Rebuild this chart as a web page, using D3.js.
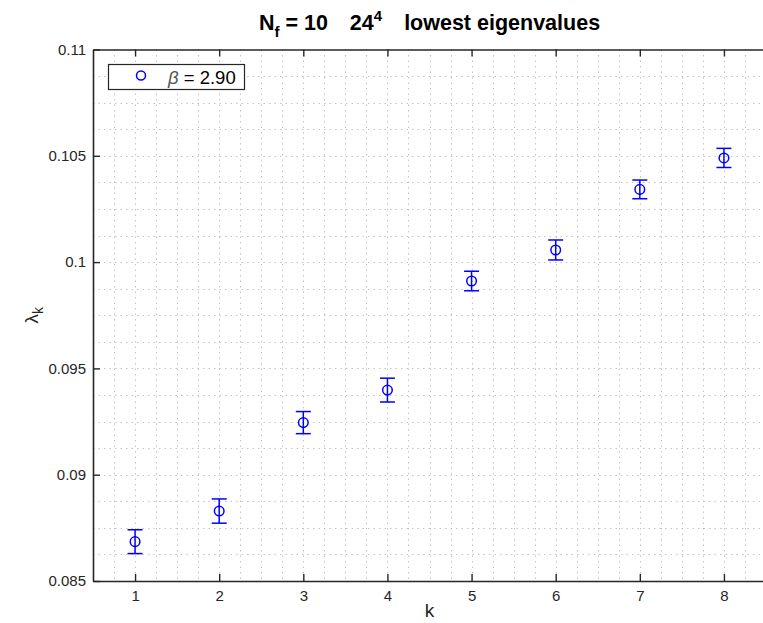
<!DOCTYPE html>
<html>
<head>
<meta charset="utf-8">
<script src="https://cdn.jsdelivr.net/npm/d3@7"></script>
<style>
  html, body { margin: 0; padding: 0; background: #fff; }
  svg { display: block; font-family: "Liberation Sans", Arial, Helvetica, sans-serif; }
</style>
</head>
<body>
<svg id="chart" width="763" height="623"></svg>
<script>
// Lowest Dirac eigenvalues, N_f = 10 on a 24^4 lattice, beta = 2.90
const modes = [1, 2, 3, 4, 5, 6, 7, 8];
const lambda = [0.08685, 0.08829, 0.09245, 0.09398, 0.09911, 0.10057, 0.10342, 0.10490];
const lambdaErr = [0.00056, 0.00057, 0.00052, 0.00056, 0.00046, 0.00047, 0.00044, 0.00045];
const xTicks = [1, 2, 3, 4, 5, 6, 7, 8];
const yTicks = [0.085, 0.09, 0.095, 0.1, 0.105, 0.11];
const yTickLabels = ["0.085", "0.09", "0.095", "0.1", "0.105", "0.11"];
const seriesLabel = "2.90";

(function draw() {
  const svg = d3.select("#chart");
  const mLeft = 93, mRight = 766, mTop = 49.5, mBottom = 581;

  const x = d3.scaleLinear().domain([0.5, 8.5]).range([mLeft, mRight]);
  const y = d3.scaleLinear().domain([0.085, 0.11]).range([mBottom, mTop]);

  const axisColor = "#262626";
  const gridColor = "#c4c4c4";
  const blue = "#0000ff";

  // minor + major dotted grid
  const xGrid = d3.range(0.75, 8.5, 0.25);
  const yGrid = d3.range(1, 20).map(i => 0.085 + i * 0.00125);

  const grid = svg.append("g");
  grid.append("g").selectAll("line").data(xGrid).join("line")
    .attr("x1", d => Math.round(x(d)) + 0.5).attr("x2", d => Math.round(x(d)) + 0.5)
    .attr("y1", mTop).attr("y2", mBottom)
    .attr("stroke", gridColor).attr("stroke-width", 1)
    .attr("stroke-dasharray", "1.5,4");
  grid.append("g").selectAll("line").data(yGrid).join("line")
    .attr("y1", d => Math.round(y(d)) + 0.5).attr("y2", d => Math.round(y(d)) + 0.5)
    .attr("x1", mLeft).attr("x2", mRight)
    .attr("stroke", gridColor).attr("stroke-width", 1)
    .attr("stroke-dasharray", "1.5,4");

  // axes (ticks pointing inward)
  const tickLen = 7;
  const xAxisB = d3.axisBottom(x).tickValues(xTicks).tickSizeInner(-tickLen).tickSizeOuter(0)
    .tickPadding(9).tickFormat(d3.format("d"));
  const xAxisT = d3.axisTop(x).tickValues(xTicks).tickSizeInner(-tickLen).tickSizeOuter(0).tickFormat("");
  const yAxisL = d3.axisLeft(y).tickValues(yTicks).tickSizeInner(-tickLen).tickSizeOuter(0)
    .tickPadding(7).tickFormat((d, i) => yTickLabels[i]);

  function styleAxis(g) {
    g.select(".domain").attr("stroke", axisColor).attr("stroke-width", 1.6);
    g.selectAll(".tick line").attr("stroke", axisColor).attr("stroke-width", 1.4);
    g.selectAll(".tick text").attr("fill", "#262626").attr("font-size", 15)
      .attr("font-family", "Liberation Sans, Arial, sans-serif");
  }

  svg.append("g").attr("transform", `translate(0,${mBottom})`).call(xAxisB).call(styleAxis);
  svg.append("g").attr("transform", `translate(0,${mTop})`).call(xAxisT).call(styleAxis);
  svg.append("g").attr("transform", `translate(${mLeft},0)`).call(yAxisL).call(styleAxis);

  // error bars with open circle markers
  const cap = 7.5;
  const pts = modes.map((k, i) => ({ k, v: lambda[i], e: lambdaErr[i] }));
  const eb = svg.append("g").attr("stroke", blue).attr("stroke-width", 1.5).attr("fill", "none");
  eb.selectAll("line.v").data(pts).join("line").attr("class", "v")
    .attr("x1", d => x(d.k)).attr("x2", d => x(d.k))
    .attr("y1", d => y(d.v - d.e)).attr("y2", d => y(d.v + d.e));
  eb.selectAll("line.t").data(pts).join("line").attr("class", "t")
    .attr("x1", d => x(d.k) - cap).attr("x2", d => x(d.k) + cap)
    .attr("y1", d => y(d.v + d.e)).attr("y2", d => y(d.v + d.e));
  eb.selectAll("line.b").data(pts).join("line").attr("class", "b")
    .attr("x1", d => x(d.k) - cap).attr("x2", d => x(d.k) + cap)
    .attr("y1", d => y(d.v - d.e)).attr("y2", d => y(d.v - d.e));
  eb.selectAll("circle").data(pts).join("circle")
    .attr("cx", d => x(d.k)).attr("cy", d => y(d.v)).attr("r", 4.8)
    .attr("fill", "none");

  // legend
  const lg = svg.append("g");
  lg.append("rect").attr("x", 108.5).attr("y", 64.5).attr("width", 136).attr("height", 25)
    .attr("fill", "#fff").attr("stroke", axisColor).attr("stroke-width", 1.2);
  lg.append("circle").attr("cx", 141).attr("cy", 75.5).attr("r", 4.5)
    .attr("fill", "none").attr("stroke", blue).attr("stroke-width", 1.5);
  const lt = lg.append("text").attr("x", 168).attr("y", 83.5).attr("font-size", 18.5).attr("fill", "#000");
  lt.append("tspan").attr("font-style", "italic").attr("fill", "#555").text("β");
  lt.append("tspan").text(" = " + seriesLabel);

  // title
  const title = svg.append("text").attr("x", (mLeft + mRight) / 2).attr("y", 30)
    .attr("text-anchor", "middle").attr("font-size", 21.5).attr("font-weight", "bold").attr("fill", "#000");
  title.append("tspan").text("N");
  title.append("tspan").attr("dy", 7).attr("font-size", 15).text("f");
  title.append("tspan").attr("dy", -7).text(" = 10");
  title.append("tspan").attr("dx", 22).text("24");
  title.append("tspan").attr("dy", -9).attr("font-size", 15).text("4");
  title.append("tspan").attr("dy", 9).attr("dx", 22).text("lowest eigenvalues");

  // axis labels
  svg.append("text").attr("x", (mLeft + mRight) / 2).attr("y", 617).attr("text-anchor", "middle")
    .attr("font-size", 19).attr("fill", "#262626").text("k");

  const yl = svg.append("text").attr("transform", `translate(38,${(mTop + mBottom) / 2}) rotate(-90)`)
    .attr("text-anchor", "middle").attr("font-size", 19).attr("fill", "#262626");
  yl.append("tspan").text("λ");
  yl.append("tspan").attr("dy", 5).attr("font-size", 14).text("k");
})();
</script>
</body>
</html>
